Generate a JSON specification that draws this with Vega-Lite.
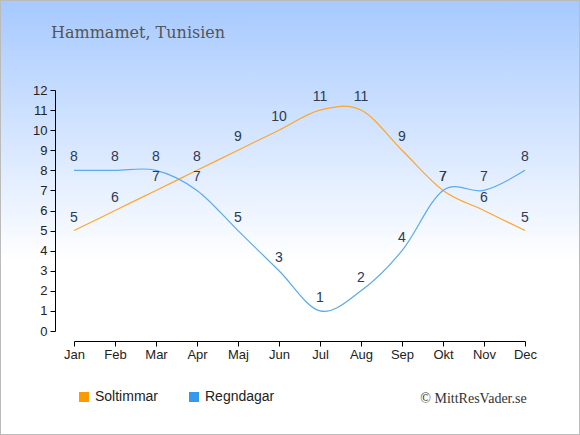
{
  "$schema": "https://vega.github.io/schema/vega-lite/v6.json",
  "width": 580,
  "height": 435,
  "padding": 0,
  "autosize": {"type": "none"},
  "background": "white",
  "config": {
    "view": {
      "fill": {
        "gradient": "linear",
        "x1": 0, "y1": 0, "x2": 0, "y2": 1,
        "stops": [
          {"offset": 0, "color": "#A6C9FF"},
          {"offset": 0.6, "color": "#FFFFFF"},
          {"offset": 1, "color": "#FFFFFF"}
        ]
      },
      "stroke": "#BBBBBB",
      "strokeWidth": 2
    },
    "axis": {
      "grid": false,
      "domainColor": "#000000",
      "tickColor": "#000000",
      "labelColor": "#222222",
      "labelFont": "Liberation Sans",
      "labelFontSize": 13,
      "tickSize": 5
    }
  },
  "title": {
    "text": "Hammamet, Tunisien",
    "anchor": "start",
    "frame": "group",
    "offset": -41,
    "dx": 51,
    "font": "DejaVu Serif",
    "fontSize": 16,
    "fontWeight": "normal",
    "color": "#555555"
  },
  "data": {
    "values": [
      {"month": "Jan", "series": "Soltimmar", "value": 5},
      {"month": "Feb", "series": "Soltimmar", "value": 6},
      {"month": "Mar", "series": "Soltimmar", "value": 7},
      {"month": "Apr", "series": "Soltimmar", "value": 8},
      {"month": "Maj", "series": "Soltimmar", "value": 9},
      {"month": "Jun", "series": "Soltimmar", "value": 10},
      {"month": "Jul", "series": "Soltimmar", "value": 11},
      {"month": "Aug", "series": "Soltimmar", "value": 11},
      {"month": "Sep", "series": "Soltimmar", "value": 9},
      {"month": "Okt", "series": "Soltimmar", "value": 7},
      {"month": "Nov", "series": "Soltimmar", "value": 6},
      {"month": "Dec", "series": "Soltimmar", "value": 5},
      {"month": "Jan", "series": "Regndagar", "value": 8},
      {"month": "Feb", "series": "Regndagar", "value": 8},
      {"month": "Mar", "series": "Regndagar", "value": 8},
      {"month": "Apr", "series": "Regndagar", "value": 7},
      {"month": "Maj", "series": "Regndagar", "value": 5},
      {"month": "Jun", "series": "Regndagar", "value": 3},
      {"month": "Jul", "series": "Regndagar", "value": 1},
      {"month": "Aug", "series": "Regndagar", "value": 2},
      {"month": "Sep", "series": "Regndagar", "value": 4},
      {"month": "Okt", "series": "Regndagar", "value": 7},
      {"month": "Nov", "series": "Regndagar", "value": 7},
      {"month": "Dec", "series": "Regndagar", "value": 8}
    ]
  },
  "encoding": {
    "x": {
      "field": "month",
      "type": "ordinal",
      "sort": ["Jan", "Feb", "Mar", "Apr", "Maj", "Jun", "Jul", "Aug", "Sep", "Okt", "Nov", "Dec"],
      "scale": {"type": "point", "range": [74, 525], "padding": 0},
      "axis": {
        "labelAngle": 0,
        "offset": -94,
        "labelPadding": 2,
        "title": "© MittResVader.se",
        "titleX": 473,
        "titleY": 57,
        "titleAlign": "center",
        "titleBaseline": "middle",
        "titleFont": "Liberation Serif",
        "titleFontSize": 14,
        "titleFontWeight": "normal",
        "titleColor": "#333333"
      }
    },
    "y": {
      "field": "value",
      "type": "quantitative",
      "scale": {"domain": [0, 12], "range": [331, 90], "nice": false},
      "axis": {
        "title": null,
        "offset": -55,
        "values": [0, 1, 2, 3, 4, 5, 6, 7, 8, 9, 10, 11, 12],
        "labelPadding": 3
      }
    }
  },
  "layer": [
    {
      "mark": {"type": "line", "interpolate": "cardinal", "strokeWidth": 1.2},
      "encoding": {
        "color": {
          "field": "series",
          "type": "nominal",
          "scale": {"domain": ["Soltimmar", "Regndagar"], "range": ["#FFA62B", "#5AAAEE"]},
          "legend": {
            "title": null,
            "orient": "none",
            "direction": "horizontal",
            "legendX": 77,
            "legendY": 390,
            "symbolType": "square",
            "symbolSize": 100,
            "symbolStrokeWidth": 0,
            "labelFont": "Liberation Sans",
            "labelFontSize": 14,
            "labelColor": "#222222",
            "labelOffset": 4,
            "columnPadding": 28,
            "encode": {
              "symbols": {
                "update": {
                  "fill": {"signal": "datum.value === 'Soltimmar' ? '#FF9900' : '#3399EE'"},
                  "fillOpacity": {"value": 1},
                  "strokeWidth": {"value": 0}
                }
              }
            }
          }
        }
      }
    },
    {
      "mark": {
        "type": "text",
        "dy": -13,
        "font": "Liberation Sans",
        "fontSize": 14,
        "color": "#2B3A55"
      },
      "encoding": {
        "text": {"field": "value", "type": "quantitative"}
      }
    }
  ]
}
